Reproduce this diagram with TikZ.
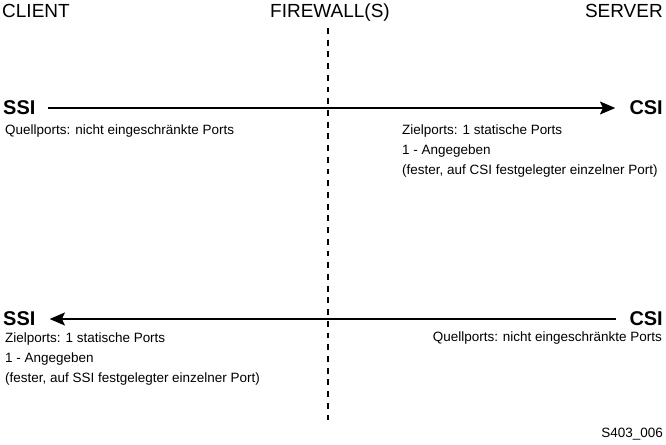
\documentclass[tikz,border=0pt]{standalone}
\usepackage{fontspec}
\setmainfont{Liberation Sans}
\usetikzlibrary{arrows.meta}

\tikzset{
  head/.style={inner sep=0pt, font=\fontsize{16.2}{19}\selectfont},
  host/.style={inner sep=0pt, font=\fontsize{17}{20}\selectfont\bfseries},
  info/.style={inner sep=0pt, font=\fontsize{11.5}{17.2}\selectfont},
  flow/.style={line width=1.7pt, -{Stealth[length=13pt, width=11pt, inset=2.5pt]},
    shorten <=11pt, shorten >=12pt},
  wall/.style={line width=1.6pt, dash pattern=on 5pt off 5pt}
}

\begin{document}
\begin{tikzpicture}[x=0.03cm, y=-0.03cm]
    \useasboundingbox (0,0) rectangle (666,444);

    % column heads
    \node[head, anchor=base west] (client) at (2,17) {CLIENT};
    \node[head, anchor=base] (fw) at (330,17) {FIREWALL(S)};
    \node[head, anchor=base east] (server) at (663,17) {SERVER};

    \coordinate (fwtop) at (328,28);
    \coordinate (fwbot) at (328,422);
    \draw[wall] (fwtop) -- (fwbot);

    % client to server
    \node[host, anchor=west] (ssiA) at (3,108) {SSI};
    \node[host, anchor=east] (csiA) at (663,108) {CSI};
    \draw[flow] (ssiA) -- (csiA);

    \node[info, anchor=north west] (srcA) at (5,125) {Quellports: nicht eingeschränkte Ports};
    \node[info, anchor=north west, align=left] (dstA) at (402,124)
        {Zielports: 1 statische Ports\\1 - Angegeben\\(fester, auf CSI festgelegter einzelner Port)};

    % server to client
    \node[host, anchor=west] (ssiB) at (3,319) {SSI};
    \node[host, anchor=east] (csiB) at (663,319) {CSI};
    \draw[flow] (csiB) -- (ssiB);

    \node[info, anchor=north west, align=left] (dstB) at (5,332)
        {Zielports: 1 statische Ports\\1 - Angegeben\\(fester, auf SSI festgelegter einzelner Port)};
    \node[info, anchor=north east] (srcB) at (662,331) {Quellports: nicht eingeschränkte Ports};

    \node[info, anchor=base east] (fig) at (663,437) {S403\_006};
\end{tikzpicture}
\end{document}
